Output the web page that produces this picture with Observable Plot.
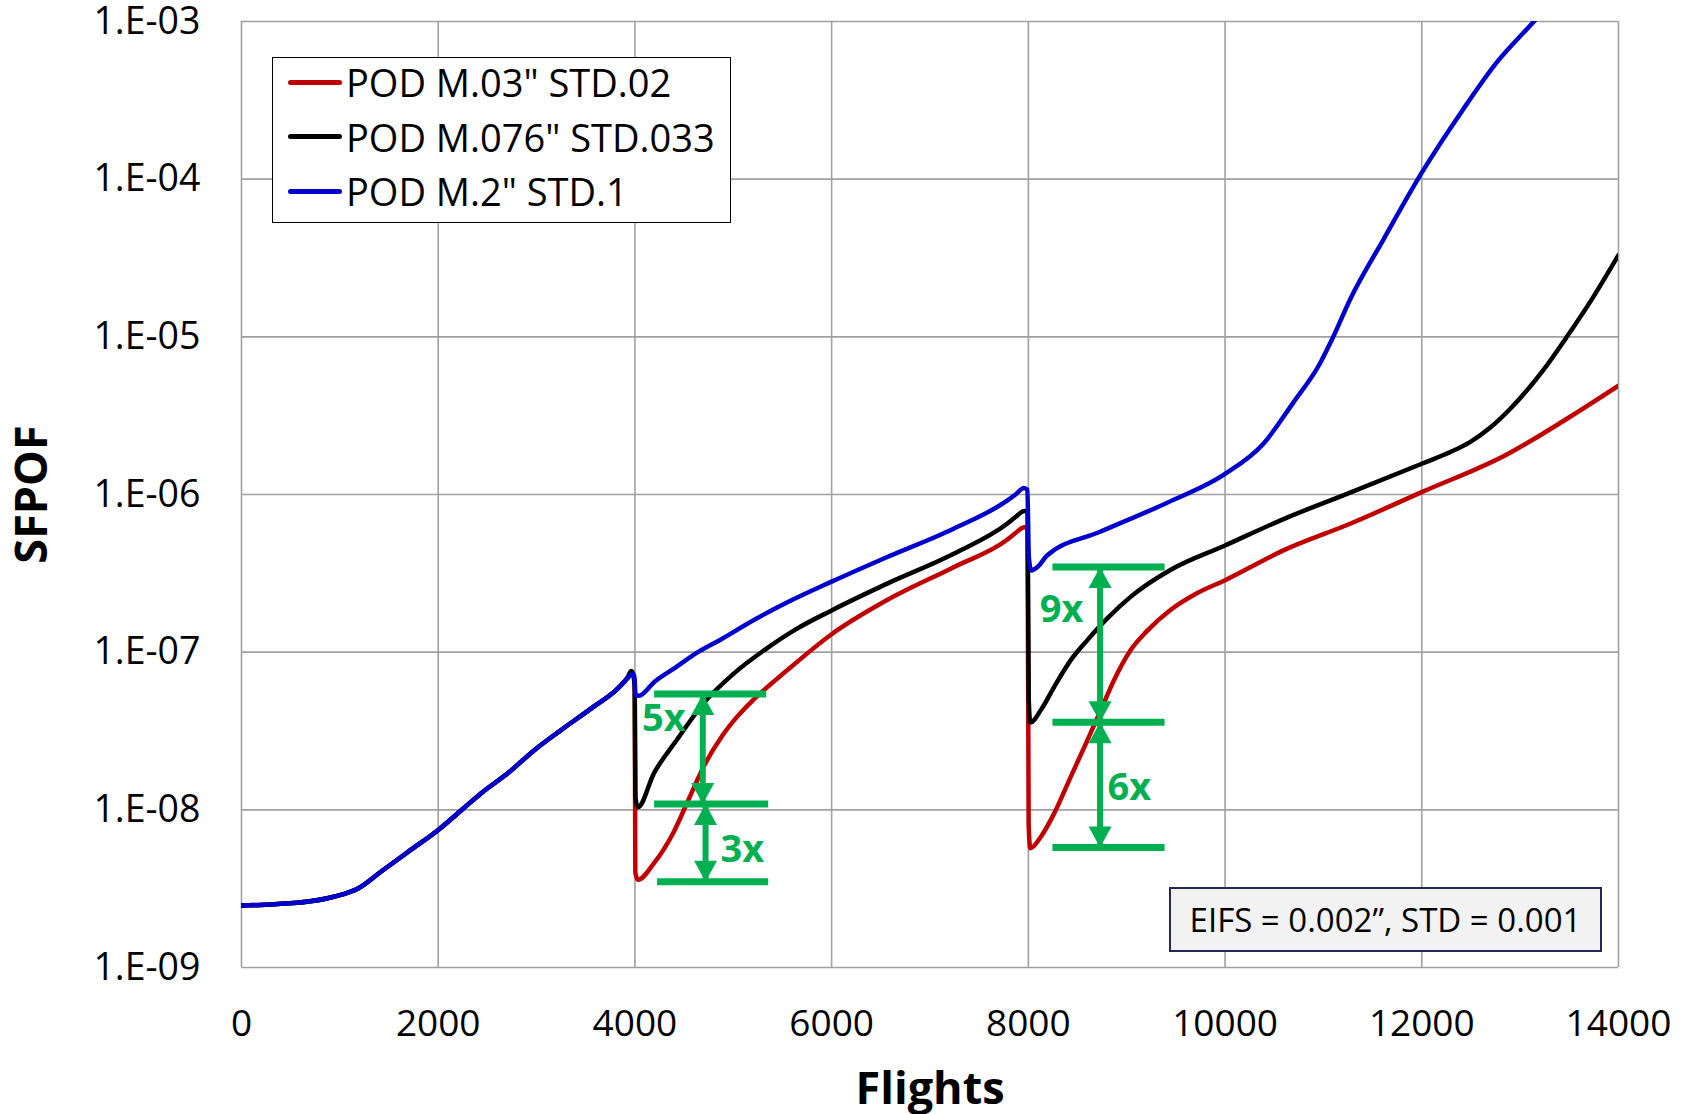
<!DOCTYPE html>
<html>
<head>
<meta charset="utf-8">
<script src="https://cdn.jsdelivr.net/npm/d3@7"></script>
<script src="https://cdn.jsdelivr.net/npm/@observablehq/plot@0.6"></script>
<style>
  html, body { margin: 0; padding: 0; background: #fff; }
  #chart { position: relative; width: 1686px; height: 1114px; font-family: "Open Sans", sans-serif; }
  #chart svg { display: block; overflow: visible; }
  .legend { position: absolute; left: 272px; top: 57px; width: 459px; height: 166px; box-sizing: border-box;
            border: 1.5px solid #000; background: #fff; }
  .legend .row { position: absolute; left: 0; height: 50px; display: flex; align-items: center;
                 font-size: 38px; color: #000; white-space: nowrap; }
  .legend .swatch { width: 54px; height: 5px; margin-left: 15px; margin-right: 4px; border-radius: 2.5px; }
  .info { position: absolute; left: 1169px; top: 887px; width: 433px; height: 65px; box-sizing: border-box;
          border: 2px solid #262657; background: #f2f2f2; font-size: 33px; color: #000;
          display: flex; align-items: center; justify-content: center; white-space: nowrap; }
</style>
</head>
<body>
<div id="chart"></div>
<script>
// ---------- data ----------
const seriesNames = ['POD M.03" STD.02', 'POD M.076" STD.033', 'POD M.2" STD.1'];
const seriesColors = ["#c00000", "#000000", "#0000cc"];

const xTicks = [0, 2000, 4000, 6000, 8000, 10000, 12000, 14000];
const yTicks = [1e-9, 1e-8, 1e-7, 1e-6, 1e-5, 1e-4, 1e-3];
const yTickLabels = ["1.E-09", "1.E-08", "1.E-07", "1.E-06", "1.E-05", "1.E-04", "1.E-03"];

// shared part of all three curves (before the first inspection)
const commonFlights = [0, 340, 680, 950, 1190, 1420, 1700, 2000, 2240, 2440, 2710, 2980, 3250, 3560, 3830];
const commonSfpof = [2.47e-9, 2.52e-9, 2.62e-9, 2.82e-9, 3.18e-9, 4.06e-9, 5.45e-9, 7.46e-9, 1.0e-8, 1.28e-8, 1.71e-8, 2.40e-8, 3.21e-8, 4.42e-8, 5.92e-8];

const redFlights = [3930, 3962, 3985, 3998, 4004, 4030, 4194, 4388, 4544, 4699, 4893, 5040, 5204, 5553, 6000, 6564, 7241, 7784, 7870, 7960, 7992, 8003, 8020, 8129, 8264, 8433, 8602, 8738, 8873, 9042, 9200, 9448, 9700, 10000, 10593, 11271, 12000, 12898, 13136, 13576, 14000];
const redSfpof = [6.9e-8, 7.4e-8, 7.0e-8, 6.0e-8, 4.0e-9, 3.6e-9, 4.59e-9, 7.11e-9, 1.156e-8, 1.88e-8, 2.98e-8, 3.9e-8, 4.99e-8, 7.73e-8, 1.30e-7, 2.14e-7, 3.46e-7, 5.16e-7, 5.7e-7, 6.2e-7, 6.05e-7, 8.0e-9, 5.71e-9, 6.78e-9, 9.53e-9, 1.63e-8, 2.78e-8, 4.31e-8, 6.68e-8, 1.035e-7, 1.35e-7, 1.86e-7, 2.34e-7, 2.86e-7, 4.42e-7, 6.52e-7, 1.035e-6, 1.84e-6, 2.24e-6, 3.31e-6, 4.9e-6];

const blackFlights = [3930, 3962, 3985, 3998, 4005, 4030, 4194, 4427, 4699, 5010, 5320, 5631, 6000, 6564, 7241, 7784, 7870, 7960, 7992, 8004, 8020, 8129, 8264, 8433, 8602, 8805, 9042, 9448, 10000, 10600, 11240, 12000, 12290, 12490, 12700, 12900, 13237, 13475, 13746, 14000];
const blackSfpof = [7.0e-8, 7.6e-8, 7.2e-8, 6.0e-8, 1.2e-8, 1.04e-8, 1.71e-8, 2.78e-8, 4.75e-8, 7.36e-8, 1.035e-7, 1.39e-7, 1.84e-7, 2.72e-7, 4.21e-7, 6.52e-7, 7.2e-7, 7.85e-7, 7.7e-7, 5.0e-8, 3.58e-8, 4.31e-8, 6.05e-8, 8.93e-8, 1.197e-7, 1.644e-7, 2.25e-7, 3.33e-7, 4.75e-7, 7.01e-7, 1.009e-6, 1.567e-6, 1.858e-6, 2.15e-6, 2.67e-6, 3.50e-6, 6.17e-6, 1.0e-5, 1.8e-5, 3.3e-5];

const blueFlights = [3930, 3975, 3992, 4008, 4040, 4200, 4400, 4640, 4870, 5210, 5550, 6000, 6560, 7240, 7780, 7870, 7955, 7990, 8005, 8030, 8100, 8190, 8730, 9400, 10000, 10390, 10690, 10966, 11100, 11270, 11610, 12000, 12420, 12760, 13140, 13500];
const blueSfpof = [6.9e-8, 7.3e-8, 7.1e-8, 5.3e-8, 5.3e-8, 6.5e-8, 7.9e-8, 1.0e-7, 1.2e-7, 1.6e-7, 2.07e-7, 2.8e-7, 4.0e-7, 6.07e-7, 9.1e-7, 1.0e-6, 1.1e-6, 1.07e-6, 4.0e-7, 3.3e-7, 3.5e-7, 4.1e-7, 5.8e-7, 8.8e-7, 1.35e-6, 2.1e-6, 3.8e-6, 6.8e-6, 1.0e-5, 1.72e-5, 4.14e-5, 1.1e-4, 2.77e-4, 5.48e-4, 1.0e-3, 1.8e-3];

// green ratio annotations
const barSfpof = [5.42e-8, 1.09e-8, 3.5e-9, 3.47e-7, 3.59e-8, 5.77e-9];
const barStart = [4200, 4200, 4230, 8250, 8250, 8250];
const barEnd = [5340, 5360, 5360, 9390, 9390, 9390];
const arrowFlights = [4690, 4718, 8729, 8729];
const arrowLow = [1.09e-8, 3.5e-9, 3.59e-8, 5.77e-9];
const arrowHigh = [5.42e-8, 1.09e-8, 3.47e-7, 3.59e-8];
const ratioText = ["5x", "3x", "9x", "6x"];
const ratioFlights = [4295, 5093, 8339, 9027];
const ratioSfpof = [3.78e-8, 5.55e-9, 1.85e-7, 1.38e-8];

const infoText = "EIFS = 0.002\u201d, STD = 0.001";

// ---------- tables ----------
const rows = [];
[[redFlights, redSfpof], [blackFlights, blackSfpof], [blueFlights, blueSfpof]].forEach(([fx, fy], s) => {
  commonFlights.forEach((f, i) => rows.push({series: seriesNames[s], flights: f, sfpof: commonSfpof[i]}));
  fx.forEach((f, i) => rows.push({series: seriesNames[s], flights: f, sfpof: fy[i]}));
});
const bars = barSfpof.map((y, i) => ({y, x1: barStart[i], x2: barEnd[i]}));
const arrows = arrowFlights.map((x, i) => ({x, lo: arrowLow[i], hi: arrowHigh[i]}));
const ratioLabels = ratioText.map((t, i) => ({t, x: ratioFlights[i], y: ratioSfpof[i]}));

const green = "#00b050";
const headUp = {draw(ctx) { ctx.moveTo(0, 0); ctx.lineTo(11.5, 21); ctx.lineTo(-11.5, 21); ctx.closePath(); }};
const headDown = {draw(ctx) { ctx.moveTo(0, 0); ctx.lineTo(11.5, -21); ctx.lineTo(-11.5, -21); ctx.closePath(); }};
const grid = "#a0a0a0";

const chart = Plot.plot({
  width: 1686,
  height: 1114,
  marginLeft: 241,
  marginRight: 68,
  marginTop: 21,
  marginBottom: 147,
  style: {fontFamily: "'Open Sans', sans-serif", background: "transparent", color: "#000", overflow: "visible"},
  x: {domain: [0, 14000]},
  y: {type: "log", domain: [1e-9, 1e-3]},
  color: {domain: seriesNames, range: seriesColors},
  marks: [
    Plot.ruleX(xTicks, {stroke: grid, strokeWidth: 1.6}),
    Plot.ruleY(yTicks, {stroke: grid, strokeWidth: 1.6}),
    Plot.axisX({ticks: xTicks, tickFormat: d => String(d), tickSize: 0, tickPadding: 42, fontSize: 37}),
    Plot.axisY({ticks: yTicks, tickFormat: d => yTickLabels[yTicks.indexOf(d)], tickSize: 0, tickPadding: 41, fontSize: 37.5, label: null}),
    Plot.line(rows, {x: "flights", y: "sfpof", z: "series", stroke: "series", strokeWidth: 4.5, curve: "monotone-x", clip: true}),
    Plot.ruleY(bars, {y: "y", x1: "x1", x2: "x2", stroke: green, strokeWidth: 7}),
    Plot.ruleX(arrows, {x: "x", y1: "lo", y2: "hi", stroke: green, strokeWidth: 6}),
    Plot.dot(arrows, {x: "x", y: "hi", symbol: headUp, fill: green, stroke: "none"}),
    Plot.dot(arrows, {x: "x", y: "lo", symbol: headDown, fill: green, stroke: "none"}),
    Plot.text(ratioLabels, {x: "x", y: "y", text: "t", fill: green, fontWeight: "bold", fontSize: 38}),
    Plot.text(["Flights"], {frameAnchor: "bottom", textAnchor: "middle", lineAnchor: "middle", dy: 122, text: d => d, fontWeight: "bold", fontSize: 45, fill: "#000"}),
    Plot.text(["SFPOF"], {frameAnchor: "left", textAnchor: "middle", lineAnchor: "middle", dx: -209, rotate: -90, text: d => d, fontWeight: "bold", fontSize: 45, fill: "#000"})
  ]
});

const root = document.getElementById("chart");
root.appendChild(chart);

// legend (inside the plot area, top-left)
const legend = document.createElement("div");
legend.className = "legend";
seriesNames.forEach((name, i) => {
  const row = document.createElement("div");
  row.className = "row";
  row.style.top = (-1 + i * 54.6) + "px";
  const sw = document.createElement("div");
  sw.className = "swatch";
  sw.style.background = seriesColors[i];
  const tx = document.createElement("span");
  tx.textContent = name;
  row.appendChild(sw);
  row.appendChild(tx);
  legend.appendChild(row);
});
root.appendChild(legend);

const info = document.createElement("div");
info.className = "info";
info.textContent = infoText;
root.appendChild(info);
</script>
</body>
</html>
